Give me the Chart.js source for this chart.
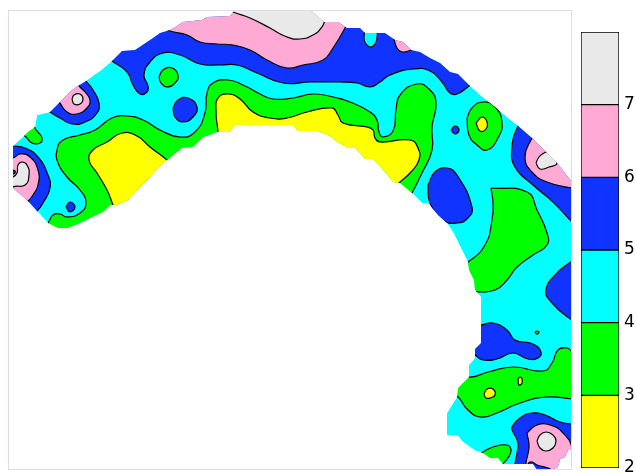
<!DOCTYPE html>
<html>
<head>
<meta charset="utf-8">
<script src="https://cdn.jsdelivr.net/npm/chart.js@4"></script>
<style>
  html, body { margin: 0; padding: 0; background: #fff; overflow: hidden; }
  #mapChart { position: absolute; left: 0; top: 0; }
  #barChart { position: absolute; left: 560px; top: 0; }
</style>
</head>
<body>
<canvas id="mapChart" width="636" height="472"></canvas>
<canvas id="barChart" width="76" height="472"></canvas>
<script>
// contour levels of the colour bar
const levels = [2, 3, 4, 5, 6, 7, 8];
const tickLabels = ['2', '3', '4', '5', '6', '7'];
const bandColors = ['#ffff00', '#00ff00', '#00ffff', '#1133ff', '#ffaad4', '#e9e9e9'];
const YELLOW = bandColors[0], GREEN = bandColors[1], CYAN = bandColors[2], BLUE = bandColors[3], PINK = bandColors[4], GRAY = bandColors[5];

const outline = [
  [13,146],[25,135],[28,132],[35,127],[37,115],[50,112],[55,107],[60,102],[66,96],[72,90],[78,86],[86,81],[94,75],[100,71],[112,61],[117,56],[122,51],[135,50],[141,46],[147,42],[153,38],[160,33],[170,30],[177,26],[183,22],[202,20],[207,17],[230,16],[235,10],
  [310,10],[317,16],[324,22],[338,22],[347,28],[360,28],[365,33],[385,33],[395,40],[403,42],[411,50],[420,52],[430,58],[440,63],[450,72],[458,74],[470,86],[480,95],[490,103],[500,111],[508,118],[517,125],[532,138],[540,146],[548,154],[557,163],[565,173],[572,182],
  [572,450],[568,450],[565,457],[560,459],[558,467],[552,470],[537,470],[533,464],[503,464],[498,458],[490,458],[483,453],[476,451],[470,447],[463,442],[458,436],[447,435],[447,413],[452,405],[457,397],[458,388],[463,383],[469,377],[469,365],[475,358],[475,349],[481,343],[481,297],
  [475,290],[474,280],[469,270],[468,262],[463,252],[457,240],[453,232],[447,223],[438,215],[428,203],[422,203],[412,193],[400,183],[393,182],[385,172],[373,159],[365,159],[355,148],[348,148],[337,142],[330,136],[317,131],[298,131],[293,125],[235,125],[230,132],[217,132],[207,136],[203,137],[193,147],[182,148],[167,160],[160,166],[150,177],[140,187],[128,200],[117,205],[110,205],[103,212],[90,218],[78,224],[67,228],[58,228],[48,223],[37,211],[27,200],[13,188]
];

// filled regions in drawing order, each one a closed contour
const blueTopBand = [[100,52],[112,61],[127,72],[133,85],[140,94],[147,92],[148,86],[144,75],[150,62],[163,53],[180,55],[200,64],[220,65],[237,65],[257,73],[283,83],[310,82],[340,82],[357,83],[370,87],[380,82],[390,75],[413,69],[430,71],[442,82],[450,93],[457,94],[469,86],[485,75],[440,20],[380,0],[250,0],[160,15]];
const pinkTopBand = [[155,25],[170,31],[187,35],[200,42],[217,44],[233,45],[250,50],[267,60],[287,68],[303,65],[323,60],[333,48],[345,28],[352,12],[300,-5],[200,-5]];
const grayTopCap = [[224,7],[233,12],[250,18],[270,28],[287,37],[300,39],[313,35],[322,27],[325,19],[328,5],[280,-5]];
const cyanIsland = [[366,25],[364,38],[366,44],[371,47],[375,44],[377,38],[376,25]];
const pinkNotch = [[392,32],[394,39],[397,48],[402,52],[411,50],[422,42],[405,30]];
const blueSpot = [[173,108],[178,100],[188,98],[197,107],[193,117],[183,122],[175,117]];
const blueBlobUpper = [[40,104],[50,112],[60,118],[72,124],[85,122],[97,113],[99,103],[93,90],[86,81],[80,72],[60,85]];
const pinkBlobUpper = [[52,95],[59,102],[67,112],[77,114],[87,108],[90,100],[85,92],[80,87],[74,80],[62,86]];
const grayBlobUpper = [[72,99],[74,95],[80,94],[83,99],[80,104],[74,104]];
const blueBlobLeft = [[3,145],[13,146],[25,148],[38,157],[48,175],[50,188],[43,203],[37,211],[28,218],[5,200]];
const pinkBlobLeft = [[3,158],[13,158],[20,154],[30,157],[38,170],[38,185],[33,195],[27,202],[18,207],[3,195]];
const grayBlobLeft = [[3,180],[13,177],[17,173],[18,165],[22,162],[27,165],[29,175],[25,185],[13,187],[3,195]];
const blueDotLeft = [[13,170],[15,171],[15,173],[13,174],[11,172]];
const blueDiamond = [[66,207],[70,202],[75,207],[70,212]];
const blueRightTop = [[524,118],[518,126],[512,147],[515,167],[533,185],[553,202],[572,222],[590,238],[595,170]];
const pinkRightTop = [[538,128],[532,138],[525,157],[532,172],[547,182],[572,188],[590,190],[585,160]];
const grayRightTop = [[536,163],[539,157],[544,153],[549,152],[557,163],[549,167],[540,169]];
const blueOval = [[428,185],[435,172],[447,168],[457,175],[472,207],[468,218],[457,223],[443,220],[430,203]];
const blueDot = [[451,130],[455,126],[459,130],[455,134]];
const blueRightMid = [[585,250],[572,261],[557,273],[546,290],[552,303],[572,320],[590,330],[600,290]];
const blueLowerLobe = [[460,326],[481,325],[493,323],[507,330],[515,340],[533,344],[541,352],[538,358],[528,359],[513,353],[497,359],[483,360],[475,355],[460,345]];
const blueBottom = [[512,430],[512,427],[520,418],[532,413],[545,415],[560,422],[572,424],[590,426],[590,480],[513,480],[515,464],[517,453],[518,443]];
const pinkBottom = [[527,433],[537,425],[550,425],[563,433],[572,448],[572,470],[556,478],[552,470],[537,465],[532,462],[528,464],[525,480],[526,463],[529,447]];
const grayBottom = [[537,441],[540,435],[546,432],[553,435],[556,441],[553,448],[546,451],[540,448]];
const greenMain = [[40,232],[48,223],[53,215],[60,214],[67,217],[80,213],[86,203],[80,190],[67,177],[58,163],[57,150],[63,140],[80,135],[95,130],[112,118],[127,116],[143,120],[160,130],[180,137],[195,132],[205,113],[207,93],[213,83],[228,80],[243,85],[260,94],[273,99],[293,98],[313,94],[333,97],[350,102],[370,112],[377,120],[379,132],[383,137],[393,131],[396,110],[400,95],[417,84],[430,90],[436,103],[432,127],[432,150],[422,173],[412,193],[402,212],[300,240],[100,270]];
const greenCircle = [[159,77],[163,70],[172,68],[178,75],[175,83],[167,87],[161,83]];
const greenLeftSmall = [[33,122],[35,128],[38,132],[42,138],[40,143],[32,143],[26,137],[20,132]];
const greenRightRing = [[467,118],[472,108],[483,102],[495,107],[502,122],[498,138],[487,150],[477,145],[469,135]];
const greenCentreRight = [[491,188],[527,192],[537,210],[547,233],[547,245],[533,255],[517,267],[507,280],[495,290],[475,292],[455,292],[455,268],[468,262],[485,245],[492,220],[493,203]];
const greenSpeck = [[535,332],[537,331],[539,332],[537,334]];
const greenLower = [[450,370],[469,377],[488,372],[513,367],[543,371],[552,363],[558,350],[567,348],[572,351],[590,354],[590,400],[572,399],[547,397],[520,403],[497,413],[480,417],[467,409],[458,397],[445,390]];
const greenBottom = [[475,458],[483,452],[493,447],[507,445],[511,450],[508,458],[503,464],[496,476],[480,472]];
const yellowLeft = [[113,205],[107,190],[97,173],[89,160],[93,150],[107,142],[122,133],[137,136],[150,147],[167,160],[180,172],[140,225]];
const yellowCentre = [[218,132],[216,110],[218,98],[228,94],[240,99],[253,112],[270,118],[287,118],[307,112],[332,108],[338,115],[343,123],[367,127],[373,130],[375,138],[380,142],[410,140],[418,148],[419,160],[410,173],[399,183],[388,195],[300,170],[220,150]];
const yellowRing = [[476,123],[482,117],[487,122],[486,129],[480,131]];
const yellowDot = [[484,394],[487,389],[493,389],[495,395],[490,398],[486,398]];
const yellowSliver = [[518,379],[520,377],[522,379],[522,383],[519,385]];

const regions = [
  [blueTopBand, BLUE], [pinkTopBand, PINK], [grayTopCap, GRAY], [cyanIsland, CYAN], [pinkNotch, PINK],
  [blueSpot, BLUE], [blueBlobUpper, BLUE], [pinkBlobUpper, PINK], [grayBlobUpper, GRAY],
  [blueBlobLeft, BLUE], [pinkBlobLeft, PINK], [grayBlobLeft, GRAY], [blueDotLeft, BLUE], [blueDiamond, BLUE],
  [blueRightTop, BLUE], [pinkRightTop, PINK], [grayRightTop, GRAY], [blueOval, BLUE], [blueDot, BLUE],
  [blueRightMid, BLUE], [blueLowerLobe, BLUE], [blueBottom, BLUE], [pinkBottom, PINK], [grayBottom, GRAY],
  [greenMain, GREEN], [greenCircle, GREEN], [greenLeftSmall, GREEN], [greenRightRing, GREEN],
  [greenCentreRight, GREEN], [greenSpeck, GREEN], [greenLower, GREEN], [greenBottom, GREEN],
  [yellowLeft, YELLOW], [yellowCentre, YELLOW], [yellowRing, YELLOW], [yellowDot, YELLOW], [yellowSliver, YELLOW]
];

function toPoints(list, closed) {
  const pts = list.map(p => ({ x: p[0], y: p[1] }));
  if (closed) pts.push({ x: list[0][0], y: list[0][1] });
  return pts;
}

// everything inside the datasets is cut to the outline, like the masked grid
const outlineClip = {
  id: 'outlineClip',
  beforeDatasetsDraw(chart) {
    const { ctx, scales } = chart;
    ctx.save();
    ctx.beginPath();
    outline.forEach((p, i) => {
      const px = scales.x.getPixelForValue(p[0]);
      const py = scales.y.getPixelForValue(p[1]);
      if (i === 0) ctx.moveTo(px, py); else ctx.lineTo(px, py);
    });
    ctx.closePath();
    ctx.clip();
  },
  afterDatasetsDraw(chart) {
    chart.ctx.restore();
    // plot frame
    const a = chart.chartArea;
    chart.ctx.save();
    chart.ctx.strokeStyle = '#dcdce6';
    chart.ctx.lineWidth = 1;
    chart.ctx.strokeRect(a.left + 0.5, a.top + 0.5, a.width - 1, a.height - 1);
    chart.ctx.restore();
  }
};

const mapDatasets = [{
  data: toPoints(outline, true),
  showLine: true,
  fill: 'shape',
  backgroundColor: CYAN,
  borderWidth: 0,
  pointRadius: 0,
  tension: 0
}];
regions.forEach(r => {
  mapDatasets.push({
    data: toPoints(r[0], true),
    showLine: true,
    fill: 'shape',
    backgroundColor: r[1],
    borderColor: '#000000',
    borderWidth: 1.2,
    pointRadius: 0,
    tension: 0.5
  });
});
// Chart.js paints dataset 0 last, so the base has to sit at the end
mapDatasets.reverse();

new Chart(document.getElementById('mapChart'), {
  type: 'scatter',
  data: { datasets: mapDatasets },
  options: {
    responsive: false,
    animation: false,
    layout: { padding: { left: 8, top: 10, right: 64, bottom: 2 } },
    plugins: { legend: { display: false }, tooltip: { enabled: false } },
    scales: {
      x: { type: 'linear', display: false, min: 8, max: 572 },
      y: { type: 'linear', display: false, min: 10, max: 470, reverse: true }
    }
  },
  plugins: [outlineClip]
});

// colour bar
const barDatasets = bandColors.map((c, i) => ({
  data: [[levels[i], levels[i + 1]]],
  backgroundColor: c,
  borderColor: '#000000',
  borderWidth: 1,
  borderSkipped: false,
  barPercentage: 1,
  categoryPercentage: 1,
  grouped: false
}));

new Chart(document.getElementById('barChart'), {
  type: 'bar',
  data: { labels: [''], datasets: barDatasets },
  options: {
    responsive: false,
    animation: false,
    layout: { padding: { left: 21, top: 32, right: 0, bottom: 4 } },
    plugins: { legend: { display: false }, tooltip: { enabled: false } },
    scales: {
      x: { display: false },
      y: {
        position: 'right',
        min: 2,
        max: 8,
        afterFit(s) { s.width = 17; s.paddingTop = 0; s.paddingBottom = 0; },
        grid: { display: false, drawTicks: false },
        border: { display: false },
        ticks: {
          stepSize: 1,
          padding: 5,
          color: '#000000',
          font: { family: 'DejaVu Sans', size: 17 },
          callback: v => tickLabels[v - 2]
        }
      }
    }
  }
});
</script>
</body>
</html>
